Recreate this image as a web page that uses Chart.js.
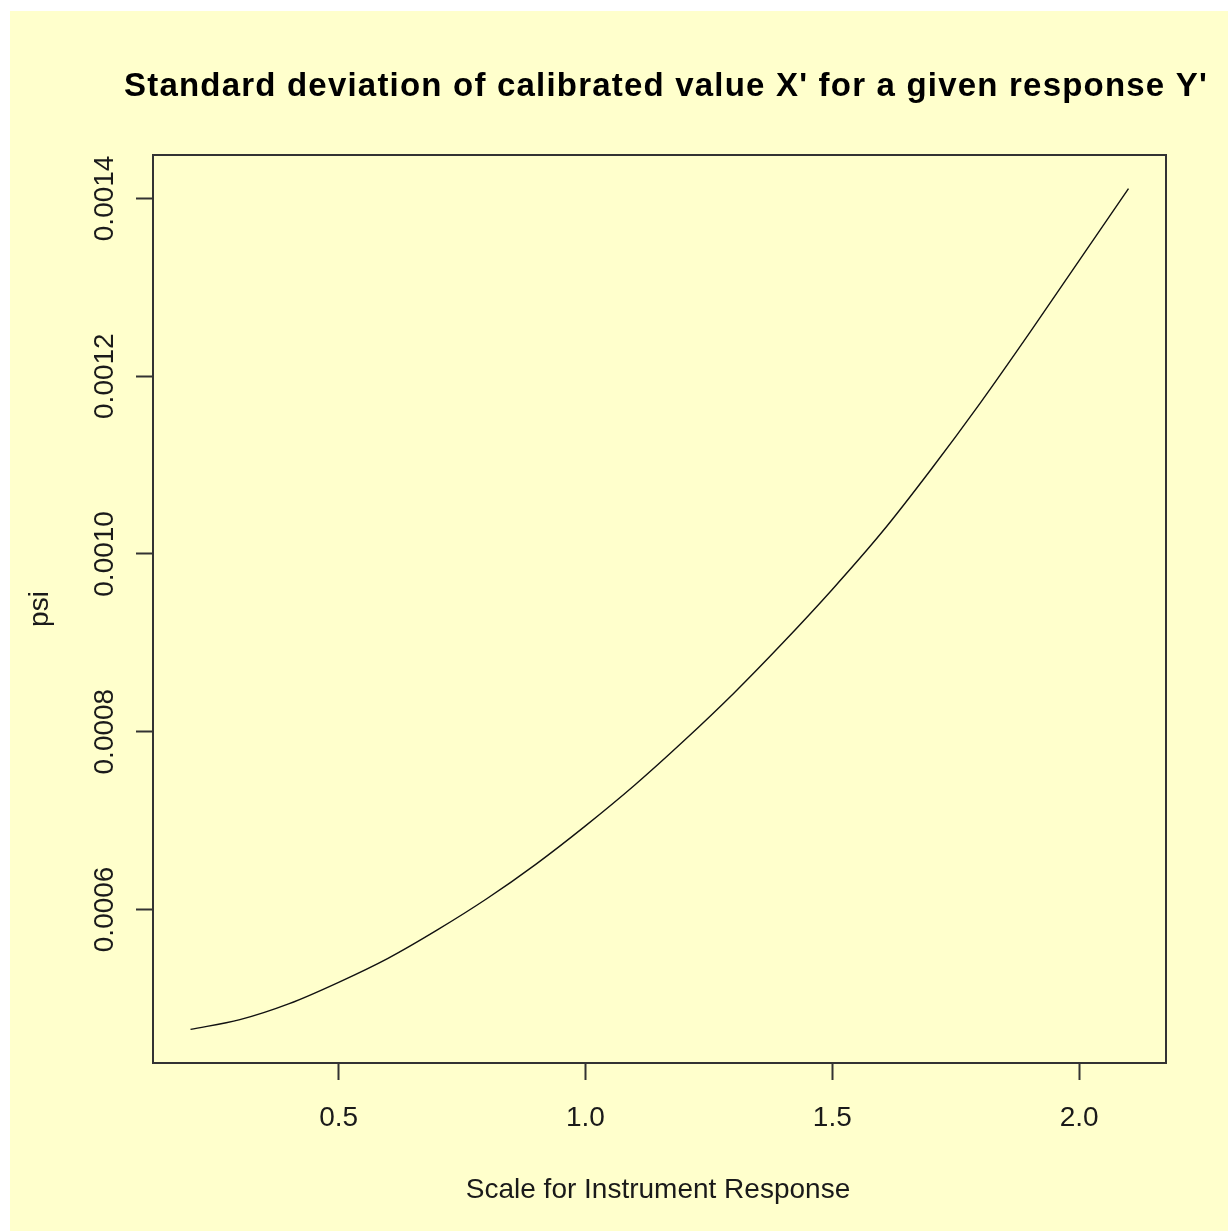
<!DOCTYPE html>
<html>
<head>
<meta charset="utf-8">
<script src="https://cdn.jsdelivr.net/npm/chart.js@4"></script>
<style>
html,body{margin:0;padding:0;background:#ffffff;}
#wrap{position:absolute;left:0;top:0;width:1228px;height:1231px;}
</style>
</head>
<body>
<div id="wrap"><canvas id="c" width="1228" height="1231"></canvas></div>
<script>
// ---- data ----
const xValues = [0.2,0.3,0.4,0.5,0.6,0.7,0.8,0.9,1.0,1.1,1.2,1.3,1.4,1.5,1.6,1.7,1.8,1.9,2.0,2.1];
const psiValues = [0.000465,0.000476,0.000494,0.000518,0.000545,0.000577,0.000612,0.000651,0.000694,0.000740,
                   0.000790,0.000843,0.000900,0.000960,0.001024,0.001095,0.001170,0.001249,0.001330,0.001411];
const xTicks = [0.5,1.0,1.5,2.0];
const xTickLabels = ["0.5","1.0","1.5","2.0"];
const yTicks = [0.0006,0.0008,0.0010,0.0012,0.0014];
const yTickLabels = ["0.0006","0.0008","0.0010","0.0012","0.0014"];
const titleText = "Standard deviation of calibrated value X' for a given response Y'";
const xTitle = "Scale for Instrument Response";
const yTitle = "psi";

// R-style 4% axis extension
function extRange(arr){const mn=Math.min(...arr),mx=Math.max(...arr),d=mx-mn;return [mn-0.04*d,mx+0.04*d];}
const [xMin,xMax]=extRange(xValues);
const [yMin,yMax]=extRange(psiValues);

const FONT = "'Liberation Sans', Arial, sans-serif";
const INK = "#1a1a1a";
const BOX = "#333333";

const decor = {
  id:'decor',
  beforeDraw(chart){
    const ctx=chart.ctx;
    ctx.save();
    ctx.fillStyle='#ffffff';
    ctx.fillRect(0,0,chart.width,chart.height);
    ctx.fillStyle='#ffffcc';
    ctx.fillRect(10,11,chart.width-10,chart.height-11);
    ctx.restore();
  },
  afterDraw(chart){
    const ctx=chart.ctx, a=chart.chartArea, ys=chart.scales.y;
    ctx.save();
    // box
    ctx.strokeStyle=BOX; ctx.lineWidth=2;
    ctx.strokeRect(a.left,a.top,a.right-a.left,a.bottom-a.top);
    // title
    ctx.fillStyle='#000';
    ctx.font="bold 33px "+FONT;
    try{ctx.letterSpacing='1.2px';}catch(e){}
    ctx.textAlign='center'; ctx.textBaseline='middle';
    ctx.fillText(titleText,666,87);
    try{ctx.letterSpacing='0px';}catch(e){}
    // x axis title
    ctx.fillStyle=INK;
    ctx.font="28px "+FONT;
    ctx.fillText(xTitle,658,1190);
    // y axis title
    ctx.save();
    ctx.translate(40,(a.top+a.bottom)/2);
    ctx.rotate(-Math.PI/2);
    ctx.fillText(yTitle,0,0);
    ctx.restore();
    // y tick labels (rotated like R)
    yTicks.forEach((v,i)=>{
      const py=ys.getPixelForValue(v);
      ctx.save();
      ctx.translate(105,py);
      ctx.rotate(-Math.PI/2);
      ctx.fillText(yTickLabels[i],0,0);
      ctx.restore();
    });
    ctx.restore();
  }
};

new Chart(document.getElementById('c'),{
  type:'line',
  data:{datasets:[{
    data:xValues.map((x,i)=>({x:x,y:psiValues[i]})),
    borderColor:'#111111',borderWidth:1.4,pointRadius:0,fill:false,
    cubicInterpolationMode:'monotone'
  }]},
  options:{
    responsive:false,animation:false,devicePixelRatio:1,
    layout:{padding:{left:0,top:155,right:62,bottom:0}},
    plugins:{legend:{display:false},tooltip:{enabled:false},title:{display:false}},
    scales:{
      x:{type:'linear',min:xMin,max:xMax,
        afterFit(s){s.height=168;},
        afterBuildTicks(s){s.ticks=xTicks.map(v=>({value:v}));},
        grid:{drawOnChartArea:false,drawTicks:true,tickLength:17,tickColor:BOX,tickWidth:2},
        border:{display:false},
        ticks:{padding:21,color:INK,font:{family:FONT,size:28},maxRotation:0,
          callback:(v)=>{const i=xTicks.indexOf(v);return i>=0?xTickLabels[i]:'';}}
      },
      y:{type:'linear',min:yMin,max:yMax,
        afterFit(s){s.width=153;},
        afterBuildTicks(s){s.ticks=yTicks.map(v=>({value:v}));},
        grid:{drawOnChartArea:false,drawTicks:true,tickLength:17,tickColor:BOX,tickWidth:2},
        border:{display:false},
        ticks:{display:false}
      }
    }
  },
  plugins:[decor]
});
</script>
</body>
</html>
